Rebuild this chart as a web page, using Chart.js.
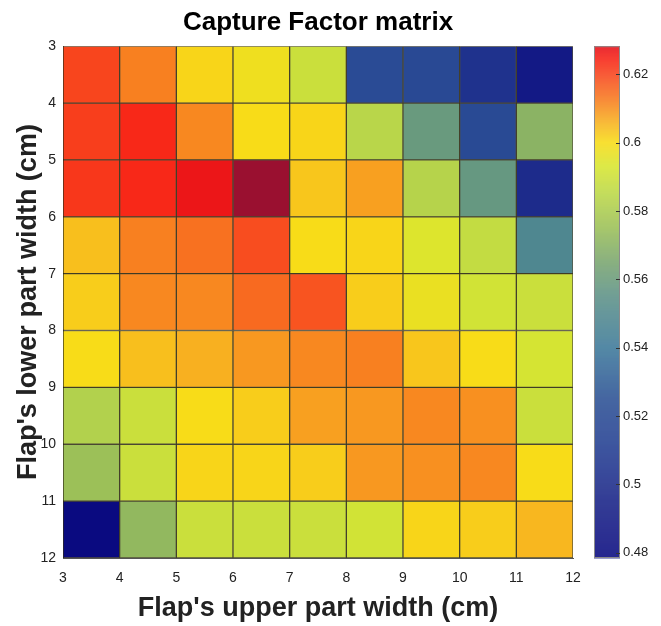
<!DOCTYPE html>
<html>
<head>
<meta charset="utf-8">
<script src="https://cdn.jsdelivr.net/npm/chart.js@4.4.1/dist/chart.umd.min.js"></script>
<style>
  html, body { margin: 0; padding: 0; background: #fff; }
</style>
</head>
<body>
<canvas id="cfChart" width="661" height="626"></canvas>
<script>
// flap widths (cm): columns = upper part, rows = lower part
const upperWidths = [3, 4, 5, 6, 7, 8, 9, 10, 11];
const lowerWidths = [3, 4, 5, 6, 7, 8, 9, 10, 11];
const axisTicks = [3, 4, 5, 6, 7, 8, 9, 10, 11, 12];
const colorTicks = [0.48, 0.5, 0.52, 0.54, 0.56, 0.58, 0.6, 0.62];
const colorRange = [0.4785, 0.6282];

// capture factor, one row per lower width
const row3  = [0.620, 0.612, 0.601, 0.598, 0.589, 0.520, 0.518, 0.503, 0.488];
const row4  = [0.621, 0.624, 0.611, 0.600, 0.601, 0.584, 0.559, 0.519, 0.570];
const row5  = [0.622, 0.624, 0.627, 0.632, 0.603, 0.608, 0.583, 0.558, 0.499];
const row6  = [0.604, 0.612, 0.614, 0.619, 0.600, 0.601, 0.594, 0.587, 0.548];
const row7  = [0.602, 0.611, 0.611, 0.615, 0.618, 0.602, 0.597, 0.591, 0.589];
const row8  = [0.600, 0.604, 0.606, 0.609, 0.611, 0.612, 0.603, 0.600, 0.592];
const row9  = [0.582, 0.589, 0.600, 0.602, 0.608, 0.609, 0.611, 0.610, 0.589];
const row10 = [0.575, 0.589, 0.601, 0.601, 0.602, 0.609, 0.610, 0.611, 0.600];
const row11 = [0.478, 0.572, 0.589, 0.589, 0.589, 0.591, 0.601, 0.602, 0.605];
const captureRows = [row3, row4, row5, row6, row7, row8, row9, row10, row11];

// colormap (blue -> green -> yellow -> red)
const cmap = [
    [0.478, [10, 10, 128]],
    [0.495, [26, 36, 136]],
    [0.510, [36, 62, 146]],
    [0.525, [45, 82, 150]],
    [0.540, [62, 122, 154]],
    [0.555, [94, 146, 136]],
    [0.565, [122, 166, 112]],
    [0.575, [156, 192, 88]],
    [0.585, [188, 216, 72]],
    [0.593, [216, 230, 48]],
    [0.600, [248, 220, 24]],
    [0.606, [248, 176, 32]],
    [0.612, [248, 128, 32]],
    [0.618, [248, 84, 32]],
    [0.624, [248, 40, 24]],
    [0.628, [232, 16, 24]],
    [0.632, [154, 16, 48]]
];

function colorFor(v) {
    if (v <= cmap[0][0]) return 'rgb(' + cmap[0][1].join(',') + ')';
    for (let i = 1; i < cmap.length; i++) {
        if (v <= cmap[i][0]) {
            const [v0, c0] = cmap[i - 1], [v1, c1] = cmap[i];
            const t = (v - v0) / (v1 - v0);
            const c = c0.map((a, k) => Math.round(a + (c1[k] - a) * t));
            return 'rgb(' + c.join(',') + ')';
        }
    }
    return 'rgb(' + cmap[cmap.length - 1][1].join(',') + ')';
}

const cells = [], cellColors = [];
lowerWidths.forEach((lw, r) => {
    upperWidths.forEach((uw, c) => {
        cells.push({ x: uw + 0.5, y: [lw, lw + 1] });
        cellColors.push(colorFor(captureRows[r][c]));
    });
});

const FONT = "'Liberation Sans', Arial, Helvetica, sans-serif";

const colorbar = {
    id: 'colorbar',
    afterDraw(chart) {
        const { ctx, chartArea } = chart;
        const s = chart.scales.cbar;
        const x0 = chartArea.right + 21, w = 26;
        const top = s.getPixelForValue(colorRange[1]);
        const bottom = s.getPixelForValue(colorRange[0]);
        ctx.save();
        for (let y = top; y < bottom; y++) {
            ctx.fillStyle = colorFor(s.getValueForPixel(y + 0.5));
            ctx.fillRect(x0, y, w, 1.2);
        }
        ctx.strokeStyle = '#8a8a8a';
        ctx.lineWidth = 1;
        ctx.strokeRect(x0 + 0.5, top + 0.5, w - 1, bottom - top - 1);
        ctx.strokeStyle = '#333';
        colorTicks.forEach(t => {
            const y = Math.round(s.getPixelForValue(t)) + 0.5;
            ctx.beginPath();
            ctx.moveTo(x0 + w - 4, y);
            ctx.lineTo(x0 + w, y);
            ctx.stroke();
        });
        ctx.restore();
    }
};

new Chart(document.getElementById('cfChart'), {
    type: 'bar',
    data: {
        datasets: [{
            data: cells,
            backgroundColor: cellColors,
            borderColor: 'rgba(40, 36, 10, 0.8)',
            borderWidth: 1,
            borderSkipped: false,
            barPercentage: 1,
            categoryPercentage: 1,
            grouped: false
        }]
    },
    options: {
        responsive: false,
        animation: false,
        events: [],
        layout: { padding: 0 },
        plugins: {
            legend: { display: false },
            tooltip: { enabled: false },
            title: {
                display: true,
                fullSize: false,
                text: 'Capture Factor matrix',
                color: '#000',
                font: { family: FONT, size: 26, weight: 'bold' },
                padding: { top: 7, bottom: 8 }
            }
        },
        scales: {
            x: {
                type: 'linear',
                min: 3,
                max: 12,
                offset: false,
                afterBuildTicks: s => { s.ticks = axisTicks.map(v => ({ value: v })); },
                afterFit: s => { s.height = 68; },
                grid: { display: false, drawTicks: false },
                border: { display: true, color: '#555' },
                ticks: { color: '#222', padding: 12, font: { family: FONT, size: 14 } },
                title: {
                    display: true,
                    text: "Flap's upper part width (cm)",
                    color: '#222',
                    font: { family: FONT, size: 27, weight: 'bold' },
                    padding: { bottom: 1 }
                }
            },
            y: {
                type: 'linear',
                reverse: true,
                min: 3,
                max: 12,
                afterBuildTicks: s => { s.ticks = axisTicks.map(v => ({ value: v })); },
                afterFit: s => { s.width = 63; },
                grid: { display: false, drawTicks: false },
                border: { display: true, color: '#555' },
                ticks: { color: '#222', padding: 7, font: { family: FONT, size: 14 } },
                title: {
                    display: true,
                    text: "Flap's lower part width (cm)",
                    color: '#222',
                    font: { family: FONT, size: 27, weight: 'bold' },
                    padding: { top: 12 }
                }
            },
            cbar: {
                type: 'linear',
                position: 'right',
                min: colorRange[0],
                max: colorRange[1],
                afterBuildTicks: s => { s.ticks = colorTicks.map(v => ({ value: v })); },
                afterFit: s => { s.width = 88; },
                grid: { display: false, drawTicks: true, tickLength: 46 },
                border: { display: false },
                ticks: {
                    color: '#222',
                    padding: 4,
                    font: { family: FONT, size: 13 },
                    callback: v => String(+v.toFixed(2))
                }
            }
        }
    },
    plugins: [colorbar]
});
</script>
</body>
</html>
